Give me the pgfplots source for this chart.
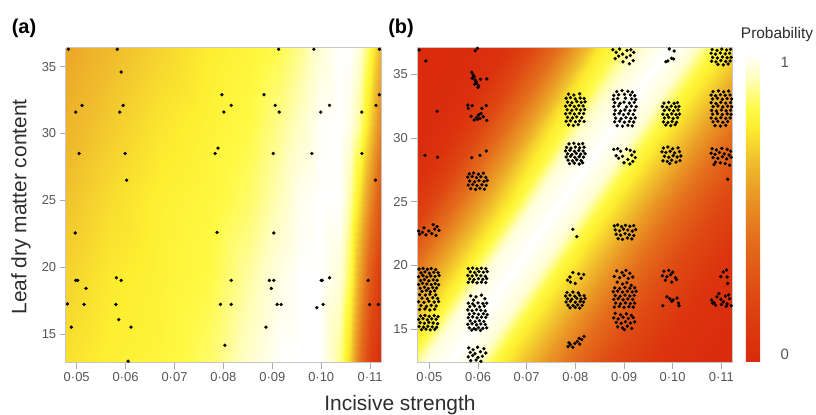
\documentclass[border=0pt]{standalone}
\usepackage{fontspec}
\setmainfont{Liberation Sans}
\usepackage{pgfplots}
\pgfplotsset{compat=1.18}
\definecolor{ticklab}{RGB}{85,85,85}
\definecolor{axlab}{RGB}{45,45,45}
\pgfplotsset{
  colormap={heat}{rgb255(0cm)=(218,42,12) rgb255(2cm)=(222,70,18) rgb255(4cm)=(228,110,28) rgb255(5.5cm)=(234,155,38) rgb255(6.5cm)=(240,190,45) rgb255(7.6cm)=(253,238,48) rgb255(8.2cm)=(255,250,70) rgb255(9.2cm)=(255,254,190) rgb255(10cm)=(255,255,255)},
  panel/.style={
    view={0}{90}, scale only axis, anchor=south west,
    colormap name=heat, point meta min=0, point meta max=1,
    axis on top, tick align=outside, major tick length=6bp,
    tick style={draw=gray!65, line width=0.6bp},
    axis line style={draw=gray!45, line width=0.5bp},
    xtick={0.05,0.06,0.07,0.08,0.09,0.10,0.11},
    xticklabels={0·05,0·06,0·07,0·08,0·09,0·10,0·11},
    ytick={15,20,25,30,35}, yticklabels={15,20,25,30,35},
    ztick=\empty,
    tick label style={font=\fontsize{13}{15}\selectfont, text=ticklab},
    xtick pos=left, ytick pos=left,
  },
  dots/.style={only marks, mark=*, mark size=1.55bp, mark options={draw=black, fill=black, line width=0.3bp}},
}
\begin{document}
\begin{tikzpicture}[x=1bp,y=1bp]
\path[use as bounding box] (0,0) rectangle (816,414);
% ---------------- panel (a)
\begin{axis}[panel, at={(65.7bp,51.3bp)}, width=316bp, height=315bp,
  xmin=0.04775, xmax=0.11237, ymin=12.84, ymax=36.42]
\addplot3[surf, shader=interp, mesh/cols=13] table {
x y z
0.04775 36.42 0.58
0.05681 36.42 0.64
0.06703 36.42 0.70
0.07726 36.42 0.76
0.08544 36.42 0.79
0.09157 36.42 0.83
0.09566 36.42 0.88
0.09975 36.42 0.95
0.10385 36.42 1.00
0.10589 36.42 1.00
0.10794 36.42 0.95
0.10998 36.42 0.82
0.11237 36.42 0.60
0.04775 30.64 0.62
0.05681 30.64 0.68
0.06703 30.64 0.74
0.07726 30.64 0.78
0.08544 30.64 0.82
0.09157 30.64 0.88
0.09566 30.64 0.93
0.09975 30.64 0.99
0.10385 30.64 1.00
0.10589 30.64 0.97
0.10794 30.64 0.88
0.10998 30.64 0.70
0.11237 30.64 0.45
0.04775 25.02 0.66
0.05681 25.02 0.72
0.06703 25.02 0.77
0.07726 25.02 0.80
0.08544 25.02 0.85
0.09157 25.02 0.92
0.09566 25.02 0.98
0.09975 25.02 1.00
0.10385 25.02 1.00
0.10589 25.02 0.90
0.10794 25.02 0.72
0.10998 25.02 0.50
0.11237 25.02 0.25
0.04775 19.03 0.70
0.05681 19.03 0.75
0.06703 19.03 0.78
0.07726 19.03 0.82
0.08544 19.03 0.90
0.09157 19.03 0.97
0.09566 19.03 1.00
0.09975 19.03 1.00
0.10385 19.03 0.95
0.10589 19.03 0.82
0.10794 19.03 0.55
0.10998 19.03 0.30
0.11237 19.03 0.08
0.04775 12.84 0.73
0.05681 12.84 0.77
0.06703 12.84 0.79
0.07726 12.84 0.85
0.08544 12.84 0.94
0.09157 12.84 1.00
0.09566 12.84 1.00
0.09975 12.84 1.00
0.10385 12.84 0.88
0.10589 12.84 0.70
0.10794 12.84 0.40
0.10998 12.84 0.15
0.11237 12.84 0.00
};
\addplot3[dots] coordinates {
(0.0483,36.3,0) (0.0583,36.3,0) (0.0913,36.3,0) (0.0985,36.3,0) (0.1119,36.3,0)
(0.0591,34.6,0) (0.0797,32.9,0) (0.0883,32.9,0) (0.1119,32.9,0)
(0.0511,32.1,0) (0.0595,32.1,0) (0.0816,32.1,0) (0.0906,32.1,0) (0.1017,32.1,0) (0.1112,32.1,0)
(0.0498,31.6,0) (0.0588,31.6,0) (0.0801,31.6,0) (0.0914,31.6,0) (0.0999,31.6,0) (0.1083,31.6,0)
(0.0789,28.9,0) (0.0505,28.5,0) (0.0599,28.5,0) (0.0783,28.5,0) (0.0902,28.5,0) (0.0981,28.5,0) (0.1083,28.5,0)
(0.0602,26.5,0) (0.1111,26.5,0)
(0.0497,22.55,0) (0.0787,22.6,0) (0.0903,22.55,0)
(0.0581,19.2,0) (0.0498,19.0,0) (0.0502,19.0,0) (0.0591,19.0,0) (0.0816,19.0,0) (0.0894,19.0,0) (0.0903,19.0,0) (0.1000,19.0,0) (0.1002,19.0,0) (0.1017,19.2,0) (0.1096,19.0,0)
(0.0519,18.4,0) (0.0898,18.4,0)
(0.0481,17.24,0) (0.0515,17.2,0) (0.0580,17.2,0) (0.0794,17.2,0) (0.0816,17.2,0) (0.0910,17.2,0) (0.0918,17.2,0) (0.1004,17.2,0) (0.1099,17.2,0) (0.1117,17.2,0)
(0.0991,16.96,0) (0.0586,16.06,0) (0.0489,15.5,0) (0.0611,15.5,0) (0.0887,15.5,0) (0.0803,14.15,0) (0.0605,12.95,0)
};
\end{axis}
% ---------------- panel (b)
\begin{axis}[panel, at={(417.3bp,51.3bp)}, width=315.4bp, height=315bp,
  xmin=0.04753, xmax=0.11234, ymin=12.39, ymax=37.06,
  colorbar right,
  colorbar style={at={(parent axis.south east)}, anchor=south west, xshift=4.6bp, yshift=1bp,
    width=25.4bp, height=308.7bp, scale only axis,
    ytick={0.025,0.97}, yticklabels={0,1}, major tick length=0pt,
    axis line style={draw=none},
    yticklabel style={font=\fontsize{15}{17}\selectfont, text=ticklab, xshift=6bp}}]
% mesh sheared along the diagonal band: three rows, columns at fixed offsets from the band centre
\addplot3[surf, shader=interp, mesh/cols=18] table {
x y z
0.045624 37.06 0
0.062061 37.06 0.03
0.066170 37.06 0.07
0.069252 37.06 0.15
0.072334 37.06 0.25
0.078498 37.06 0.48
0.084662 37.06 0.74
0.089799 37.06 0.86
0.093908 37.06 0.95
0.099045 37.06 1.00
0.104181 37.06 0.95
0.108291 37.06 0.82
0.114454 37.06 0.68
0.121646 37.06 0.48
0.129864 37.06 0.28
0.140138 37.06 0.10
0.150411 37.06 0.03
0.160684 37.06 0
0.023248 24.74 0
0.039686 24.74 0.01
0.043795 24.74 0.04
0.046877 24.74 0.10
0.049959 24.74 0.18
0.056123 24.74 0.42
0.062287 24.74 0.64
0.067424 24.74 0.80
0.071533 24.74 0.96
0.076670 24.74 1.00
0.081806 24.74 0.95
0.085915 24.74 0.80
0.092079 24.74 0.65
0.099271 24.74 0.45
0.107489 24.74 0.25
0.117763 24.74 0.08
0.128036 24.74 0.02
0.138309 24.74 0
0.000832 12.39 0
0.017269 12.39 0.01
0.021379 12.39 0.04
0.024461 12.39 0.10
0.027543 12.39 0.18
0.033706 12.39 0.42
0.039871 12.39 0.64
0.045007 12.39 0.80
0.049116 12.39 0.96
0.054253 12.39 1.00
0.059390 12.39 0.95
0.063499 12.39 0.80
0.069663 12.39 0.65
0.076855 12.39 0.45
0.085073 12.39 0.25
0.095346 12.39 0.08
0.105620 12.39 0.02
0.115893 12.39 0
};
\addplot3[dots] coordinates {
% column 0.05
(0.0479,36.88,0) (0.0493,36.02,0) (0.0516,32.08,0) (0.0491,28.63,0) (0.0517,28.48,0)
(0.0480,22.45,0) (0.0486,22.6,0) (0.0493,22.4,0) (0.0499,22.7,0) (0.0505,22.5,0) (0.0511,22.85,0) (0.0516,23.05,0) (0.0508,23.2,0) (0.0520,22.75,0) (0.0489,22.95,0) (0.0478,22.7,0) (0.0514,22.35,0)
(0.0479,19.72,0) (0.0487,19.78,0) (0.0496,19.70,0) (0.0504,19.76,0) (0.0513,19.68,0)
(0.0483,19.42,0) (0.0491,19.50,0) (0.0500,19.40,0) (0.0509,19.47,0) (0.0518,19.44,0)
(0.0478,19.12,0) (0.0487,19.20,0) (0.0495,19.10,0) (0.0503,19.18,0) (0.0512,19.14,0) (0.0520,19.22,0)
(0.0482,18.83,0) (0.0490,18.90,0) (0.0499,18.80,0) (0.0508,18.88,0) (0.0516,18.84,0)
(0.0478,18.52,0) (0.0486,18.60,0) (0.0495,18.55,0) (0.0504,18.50,0) (0.0512,18.58,0) (0.0519,18.49,0)
(0.0481,18.22,0) (0.0490,18.30,0) (0.0498,18.20,0) (0.0507,18.27,0) (0.0515,18.24,0)
(0.0485,17.98,0) (0.0494,18.04,0) (0.0502,17.95,0) (0.0511,18.02,0)
(0.0480,17.72,0) (0.0492,17.68,0) (0.0501,17.75,0) (0.0513,17.70,0)
(0.0485,17.45,0) (0.0496,17.40,0) (0.0507,17.48,0) (0.0517,17.42,0)
(0.0478,17.16,0) (0.0489,17.12,0) (0.0499,17.20,0) (0.0510,17.14,0) (0.0519,17.18,0)
(0.0483,16.86,0) (0.0494,16.80,0) (0.0504,16.88,0) (0.0514,16.83,0)
(0.0480,16.55,0) (0.0491,16.60,0) (0.0501,16.52,0) (0.0511,16.58,0)
(0.0482,16.05,0) (0.0491,16.10,0) (0.0500,16.02,0) (0.0510,16.08,0) (0.0518,16.00,0)
(0.0478,15.78,0) (0.0487,15.84,0) (0.0496,15.76,0) (0.0505,15.82,0) (0.0514,15.79,0)
(0.0481,15.52,0) (0.0490,15.47,0) (0.0499,15.55,0) (0.0508,15.50,0) (0.0517,15.45,0)
(0.0479,15.22,0) (0.0488,15.18,0) (0.0497,15.25,0) (0.0506,15.20,0) (0.0515,15.16,0)
(0.0484,14.98,0) (0.0493,15.02,0) (0.0502,14.96,0) (0.0511,15.00,0)
% column 0.06
(0.0594,36.82,0) (0.0599,37.01,0)
(0.0587,35.13,0) (0.0590,34.92,0) (0.0588,34.66,0) (0.0594,34.53,0) (0.0597,34.27,0) (0.0601,34.08,0) (0.0592,34.79,0) (0.0605,34.58,0) (0.0618,34.61,0) (0.0596,34.40,0) (0.0600,33.95,0) (0.0593,34.20,0)
(0.0579,32.57,0) (0.0588,32.52,0) (0.0608,32.31,0) (0.0617,32.52,0) (0.0586,31.69,0) (0.0592,31.40,0) (0.0601,31.79,0) (0.0604,31.53,0) (0.0611,31.66,0) (0.0618,31.37,0) (0.0580,32.31,0) (0.0597,31.58,0) (0.0599,31.45,0) (0.0606,31.90,0)
(0.0587,28.45,0) (0.0604,28.63,0) (0.0617,28.97,0)
(0.0582,27.18,0) (0.0591,27.25,0) (0.0601,27.15,0) (0.0611,27.22,0)
(0.0579,26.92,0) (0.0588,26.98,0) (0.0597,26.88,0) (0.0606,26.95,0) (0.0616,26.90,0)
(0.0583,26.62,0) (0.0593,26.56,0) (0.0602,26.65,0) (0.0612,26.58,0) (0.0619,26.66,0)
(0.0580,26.30,0) (0.0589,26.35,0) (0.0598,26.26,0) (0.0608,26.32,0) (0.0617,26.28,0)
(0.0585,26.02,0) (0.0595,25.96,0) (0.0604,26.05,0) (0.0613,25.98,0)
(0.0580,19.76,0) (0.0589,19.80,0) (0.0598,19.74,0) (0.0607,19.79,0) (0.0616,19.75,0)
(0.0584,19.50,0) (0.0593,19.46,0) (0.0602,19.53,0) (0.0611,19.48,0) (0.0619,19.52,0)
(0.0579,19.22,0) (0.0588,19.18,0) (0.0597,19.25,0) (0.0606,19.20,0) (0.0615,19.16,0)
(0.0583,18.95,0) (0.0592,18.90,0) (0.0601,18.98,0) (0.0610,18.92,0) (0.0618,18.97,0)
(0.0580,18.68,0) (0.0589,18.72,0) (0.0598,18.65,0) (0.0607,18.70,0) (0.0616,18.66,0)
(0.0585,17.62,0) (0.0596,17.55,0) (0.0607,17.68,0) (0.0614,17.40,0) (0.0591,17.30,0)
(0.0580,17.05,0) (0.0589,17.00,0) (0.0600,17.08,0) (0.0610,17.02,0) (0.0618,17.06,0)
(0.0583,16.78,0) (0.0593,16.84,0) (0.0603,16.76,0) (0.0613,16.82,0)
(0.0579,16.52,0) (0.0588,16.46,0) (0.0597,16.55,0) (0.0606,16.50,0) (0.0615,16.45,0)
(0.0582,16.20,0) (0.0592,16.25,0) (0.0601,16.18,0) (0.0611,16.22,0) (0.0619,16.16,0)
(0.0580,15.92,0) (0.0589,15.98,0) (0.0598,15.90,0) (0.0607,15.96,0) (0.0616,15.94,0)
(0.0584,15.66,0) (0.0594,15.60,0) (0.0603,15.68,0) (0.0612,15.62,0)
(0.0579,15.40,0) (0.0588,15.44,0) (0.0597,15.36,0) (0.0606,15.42,0) (0.0615,15.38,0)
(0.0582,15.12,0) (0.0592,15.06,0) (0.0601,15.14,0) (0.0610,15.08,0) (0.0618,15.12,0)
(0.0587,14.94,0) (0.0596,14.98,0) (0.0605,14.92,0)
(0.0581,13.55,0) (0.0590,13.40,0) (0.0599,13.60,0) (0.0612,13.48,0) (0.0584,13.20,0) (0.0594,13.10,0) (0.0605,13.25,0) (0.0616,13.15,0) (0.0580,12.85,0) (0.0589,12.95,0) (0.0600,12.80,0) (0.0609,12.90,0) (0.0585,12.55,0) (0.0596,12.60,0) (0.0606,12.50,0)
% column 0.08
(0.0786,33.42,0) (0.0797,33.35,0) (0.0809,33.45,0)
(0.0781,33.10,0) (0.0790,33.15,0) (0.0800,33.05,0) (0.0810,33.12,0) (0.0818,33.08,0)
(0.0784,32.80,0) (0.0793,32.75,0) (0.0803,32.84,0) (0.0812,32.78,0) (0.0820,32.82,0)
(0.0780,32.48,0) (0.0789,32.54,0) (0.0798,32.45,0) (0.0807,32.52,0) (0.0816,32.50,0)
(0.0783,32.20,0) (0.0793,32.16,0) (0.0802,32.24,0) (0.0811,32.18,0) (0.0819,32.22,0)
(0.0780,31.88,0) (0.0789,31.94,0) (0.0798,31.86,0) (0.0808,31.92,0) (0.0817,31.90,0)
(0.0784,31.60,0) (0.0794,31.56,0) (0.0803,31.64,0) (0.0813,31.58,0)
(0.0781,31.30,0) (0.0790,31.34,0) (0.0800,31.26,0) (0.0809,31.32,0) (0.0818,31.28,0)
(0.0786,31.02,0) (0.0796,30.96,0) (0.0806,31.04,0)
(0.0787,29.52,0) (0.0797,29.58,0) (0.0807,29.50,0) (0.0815,29.55,0)
(0.0782,29.25,0) (0.0791,29.20,0) (0.0800,29.28,0) (0.0809,29.22,0) (0.0818,29.27,0)
(0.0780,28.98,0) (0.0789,29.03,0) (0.0798,28.95,0) (0.0807,29.01,0) (0.0816,28.97,0)
(0.0784,28.75,0) (0.0793,28.70,0) (0.0802,28.78,0) (0.0811,28.72,0) (0.0820,28.76,0)
(0.0781,28.50,0) (0.0790,28.55,0) (0.0799,28.47,0) (0.0808,28.52,0) (0.0817,28.49,0)
(0.0785,28.25,0) (0.0794,28.20,0) (0.0803,28.28,0) (0.0812,28.22,0)
(0.0788,27.98,0) (0.0798,28.02,0) (0.0808,27.95,0) (0.0815,28.05,0)
(0.0795,22.84,0) (0.0803,22.26,0)
(0.0784,18.85,0) (0.0789,19.1,0) (0.0795,19.45,0) (0.0807,19.35,0) (0.0812,19.0,0) (0.0817,19.3,0) (0.0790,18.7,0) (0.0800,18.6,0)
(0.0783,17.88,0) (0.0795,17.92,0) (0.0806,17.85,0)
(0.0780,17.62,0) (0.0789,17.68,0) (0.0799,17.60,0) (0.0809,17.66,0) (0.0818,17.63,0)
(0.0784,17.40,0) (0.0793,17.36,0) (0.0803,17.44,0) (0.0812,17.38,0) (0.0820,17.42,0)
(0.0781,17.15,0) (0.0790,17.20,0) (0.0800,17.12,0) (0.0810,17.18,0) (0.0817,17.14,0)
(0.0785,16.90,0) (0.0795,16.86,0) (0.0805,16.92,0) (0.0814,16.88,0)
(0.0789,16.68,0) (0.0800,16.72,0) (0.0809,16.66,0)
(0.0785,13.65,0) (0.0790,13.8,0) (0.0795,13.6,0) (0.0799,13.9,0) (0.0804,14.05,0) (0.0809,13.85,0) (0.0813,14.2,0) (0.0818,14.45,0) (0.0808,14.3,0) (0.0787,13.95,0)
% column 0.09
(0.0877,36.9,0) (0.0884,36.7,0) (0.0891,36.95,0) (0.0889,36.4,0) (0.0897,36.55,0) (0.0906,36.85,0) (0.0914,36.9,0) (0.0905,36.3,0) (0.0913,36.45,0) (0.0920,36.7,0) (0.0898,35.95,0) (0.0911,35.8,0) (0.0919,36.05,0) (0.0882,36.2,0)
(0.0885,33.62,0) (0.0896,33.70,0) (0.0908,33.65,0) (0.0917,33.58,0)
(0.0879,33.32,0) (0.0889,33.38,0) (0.0901,33.40,0) (0.0913,33.36,0) (0.0922,33.30,0)
(0.0878,33.02,0) (0.0887,33.08,0) (0.0903,33.10,0) (0.0916,33.05,0) (0.0924,33.00,0)
(0.0881,32.75,0) (0.0892,32.70,0) (0.0900,32.80,0) (0.0911,32.72,0) (0.0921,32.78,0)
(0.0879,32.45,0) (0.0889,32.50,0) (0.0905,32.42,0) (0.0915,32.48,0) (0.0925,32.44,0)
(0.0882,32.15,0) (0.0893,32.10,0) (0.0902,32.18,0) (0.0912,32.12,0) (0.0922,32.16,0)
(0.0880,31.85,0) (0.0890,31.90,0) (0.0899,31.82,0) (0.0909,31.88,0) (0.0919,31.84,0)
(0.0883,31.55,0) (0.0894,31.50,0) (0.0904,31.58,0) (0.0914,31.52,0) (0.0923,31.56,0)
(0.0881,31.25,0) (0.0891,31.30,0) (0.0901,31.22,0) (0.0911,31.28,0) (0.0920,31.24,0)
(0.0886,30.95,0) (0.0897,30.92,0) (0.0908,30.98,0) (0.0917,30.94,0)
(0.0879,29.10,0) (0.0887,29.15,0) (0.0893,28.95,0) (0.0905,29.12,0) (0.0913,29.02,0) (0.0921,28.90,0) (0.0884,28.60,0) (0.0889,28.40,0) (0.0897,28.55,0) (0.0908,28.30,0) (0.0916,28.65,0) (0.0923,28.45,0) (0.0900,28.05,0) (0.0912,27.95,0) (0.0918,28.15,0)
(0.0880,23.10,0) (0.0887,23.18,0) (0.0895,23.05,0) (0.0903,23.15,0) (0.0912,23.08,0) (0.0920,23.12,0) (0.0882,22.80,0) (0.0891,22.72,0) (0.0899,22.85,0) (0.0908,22.78,0) (0.0917,22.70,0) (0.0924,22.82,0) (0.0884,22.45,0) (0.0893,22.38,0) (0.0902,22.50,0) (0.0911,22.42,0) (0.0920,22.35,0) (0.0888,22.10,0) (0.0897,22.05,0) (0.0907,22.15,0) (0.0916,22.08,0)
(0.0885,19.58,0) (0.0896,19.45,0) (0.0904,19.62,0) (0.0912,19.40,0) (0.0880,19.15,0) (0.0891,19.05,0) (0.0900,19.22,0) (0.0909,18.98,0) (0.0918,19.10,0) (0.0886,18.70,0) (0.0897,18.55,0) (0.0906,18.65,0) (0.0915,18.45,0)
(0.0881,18.25,0) (0.0891,18.20,0) (0.0902,18.28,0) (0.0912,18.22,0) (0.0922,18.26,0)
(0.0878,17.95,0) (0.0887,18.00,0) (0.0897,17.92,0) (0.0907,17.98,0) (0.0917,17.94,0) (0.0925,17.99,0)
(0.0882,17.65,0) (0.0892,17.60,0) (0.0902,17.68,0) (0.0912,17.62,0) (0.0921,17.66,0)
(0.0879,17.35,0) (0.0888,17.40,0) (0.0898,17.32,0) (0.0908,17.38,0) (0.0918,17.34,0)
(0.0883,17.05,0) (0.0893,17.00,0) (0.0903,17.08,0) (0.0913,17.02,0) (0.0922,17.06,0)
(0.0880,16.75,0) (0.0890,16.80,0) (0.0900,16.72,0) (0.0910,16.78,0) (0.0919,16.74,0)
(0.0882,16.25,0) (0.0893,16.15,0) (0.0905,16.22,0) (0.0915,16.10,0) (0.0879,15.90,0) (0.0888,15.82,0) (0.0898,15.95,0) (0.0909,15.85,0) (0.0919,15.92,0) (0.0884,15.55,0) (0.0894,15.48,0) (0.0903,15.60,0) (0.0913,15.50,0) (0.0922,15.58,0) (0.0887,15.20,0) (0.0897,15.12,0) (0.0907,15.25,0) (0.0916,15.08,0) (0.0901,14.98,0)
% column 0.10
(0.0993,36.96,0) (0.1003,36.8,0) (0.0998,36.23,0) (0.0990,36.02,0) (0.1002,36.18,0) (0.0986,35.96,0)
(0.0982,32.72,0) (0.0992,32.78,0) (0.1003,32.70,0) (0.1010,32.76,0)
(0.0979,32.45,0) (0.0988,32.40,0) (0.0997,32.48,0) (0.1006,32.42,0) (0.1013,32.46,0)
(0.0983,32.15,0) (0.0993,32.20,0) (0.1002,32.12,0) (0.1011,32.18,0)
(0.0980,31.85,0) (0.0989,31.80,0) (0.0998,31.88,0) (0.1007,31.82,0) (0.1014,31.86,0)
(0.0983,31.55,0) (0.0992,31.60,0) (0.1001,31.52,0) (0.1010,31.58,0)
(0.0981,31.25,0) (0.0990,31.20,0) (0.0999,31.28,0) (0.1008,31.22,0)
(0.0986,31.00,0) (0.0996,30.96,0) (0.1005,31.03,0)
(0.0981,29.20,0) (0.0990,29.28,0) (0.1000,29.15,0) (0.1011,29.22,0) (0.0978,28.90,0) (0.0986,28.85,0) (0.0995,28.95,0) (0.1004,28.82,0) (0.1014,28.92,0) (0.0983,28.55,0) (0.0992,28.48,0) (0.1001,28.60,0) (0.1009,28.50,0) (0.1017,28.58,0) (0.0980,28.20,0) (0.0989,28.15,0) (0.0998,28.25,0) (0.1007,28.10,0) (0.1015,28.22,0) (0.0994,27.98,0)
(0.0982,19.55,0) (0.0992,19.62,0) (0.1000,19.48,0) (0.0979,19.20,0) (0.0988,19.12,0) (0.0996,19.28,0) (0.1006,19.05,0) (0.0985,18.85,0) (0.0998,18.70,0) (0.1008,18.90,0)
(0.0980,16.85,0) (0.0988,17.55,0) (0.0994,17.40,0) (0.1001,17.30,0) (0.1009,17.45,0) (0.1012,17.05,0) (0.1013,16.85,0) (0.0998,17.20,0)
% column 0.11
(0.1081,36.92,0) (0.1091,36.85,0) (0.1101,36.95,0) (0.1111,36.88,0) (0.1119,36.93,0)
(0.1079,36.62,0) (0.1088,36.55,0) (0.1098,36.65,0) (0.1108,36.58,0) (0.1117,36.62,0)
(0.1082,36.30,0) (0.1092,36.25,0) (0.1102,36.33,0) (0.1112,36.27,0) (0.1120,36.31,0)
(0.1080,36.00,0) (0.1089,35.95,0) (0.1099,36.05,0) (0.1109,35.98,0) (0.1118,36.02,0)
(0.1093,35.75,0) (0.1104,35.72,0) (0.1114,35.78,0)
(0.1083,33.62,0) (0.1094,33.68,0) (0.1105,33.60,0) (0.1115,33.66,0)
(0.1079,33.35,0) (0.1088,33.30,0) (0.1098,33.38,0) (0.1108,33.32,0) (0.1118,33.36,0)
(0.1082,33.05,0) (0.1092,33.10,0) (0.1102,33.02,0) (0.1112,33.08,0) (0.1121,33.04,0)
(0.1079,32.75,0) (0.1089,32.70,0) (0.1099,32.78,0) (0.1109,32.72,0) (0.1119,32.76,0)
(0.1083,32.45,0) (0.1093,32.50,0) (0.1103,32.42,0) (0.1113,32.48,0) (0.1121,32.44,0)
(0.1080,32.15,0) (0.1090,32.10,0) (0.1100,32.18,0) (0.1110,32.12,0) (0.1119,32.16,0)
(0.1082,31.85,0) (0.1092,31.90,0) (0.1102,31.82,0) (0.1112,31.88,0) (0.1120,31.84,0)
(0.1079,31.55,0) (0.1089,31.50,0) (0.1099,31.58,0) (0.1109,31.52,0) (0.1118,31.56,0)
(0.1083,31.25,0) (0.1093,31.30,0) (0.1103,31.22,0) (0.1113,31.28,0)
(0.1087,30.95,0) (0.1098,30.92,0) (0.1109,30.98,0)
(0.1081,29.15,0) (0.1090,29.05,0) (0.1101,29.18,0) (0.1112,29.10,0) (0.1119,28.95,0) (0.1079,28.80,0) (0.1087,28.70,0) (0.1096,28.85,0) (0.1106,28.75,0) (0.1116,28.65,0) (0.1083,28.45,0) (0.1093,28.40,0) (0.1102,28.52,0) (0.1111,28.35,0) (0.1120,28.48,0) (0.1088,28.10,0) (0.1098,28.05,0) (0.1108,27.98,0) (0.1117,27.85,0) (0.1085,27.90,0)
(0.1113,26.75,0)
(0.1099,19.13,0) (0.1111,19.65,0) (0.1112,19.10,0) (0.1113,18.60,0) (0.1104,19.50,0)
(0.1080,17.30,0) (0.1085,17.10,0) (0.1091,17.55,0) (0.1095,17.80,0) (0.1099,17.35,0) (0.1104,17.15,0) (0.1108,17.60,0) (0.1112,17.00,0) (0.1117,17.40,0) (0.1120,16.85,0) (0.1110,16.80,0) (0.1100,16.95,0) (0.1088,16.90,0) (0.1082,17.05,0) (0.1115,17.70,0)
};
\end{axis}
% ---------------- labels
\node[font=\bfseries\fontsize{20}{24}\selectfont, text=black] at (24,386) {(a)};
\node[font=\bfseries\fontsize{20}{24}\selectfont, text=black] at (401,386) {(b)};
\node[font=\fontsize{15.5}{18}\selectfont, text=axlab] at (777,379) {Probability};
\node[rotate=90, font=\fontsize{21}{25}\selectfont, text=axlab] at (21,207) {Leaf dry matter content};
\node[anchor=base, font=\fontsize{21}{25}\selectfont, text=axlab] at (400,4) {Incisive strength};
\end{tikzpicture}
\end{document}
